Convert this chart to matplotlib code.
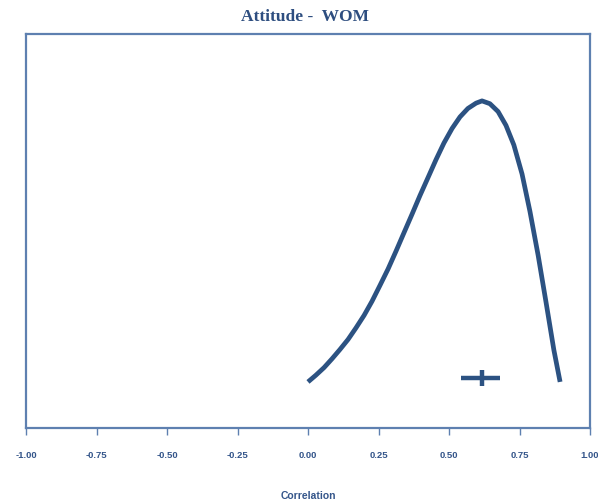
import matplotlib
matplotlib.use("Agg")
import matplotlib.pyplot as plt

# Curve, relative density
corr = [0.000, 0.028, 0.057, 0.085, 0.113, 0.142, 0.170, 0.199, 0.227, 0.255,
        0.284, 0.312, 0.340, 0.369, 0.397, 0.426, 0.454, 0.482, 0.511, 0.539,
        0.567, 0.596, 0.617, 0.645, 0.674, 0.702, 0.730, 0.759, 0.787, 0.816,
        0.844, 0.872, 0.894]
density = [0.000, 0.024, 0.051, 0.082, 0.115, 0.151, 0.192, 0.237, 0.287, 0.343,
           0.402, 0.465, 0.530, 0.597, 0.663, 0.728, 0.791, 0.850, 0.902, 0.943,
           0.973, 0.992, 1.000, 0.990, 0.962, 0.913, 0.843, 0.740, 0.607, 0.451,
           0.284, 0.113, 0.000]

# Point estimate with interval
est_x = 0.617
est_y = 0.014
est_lo = 0.543
est_hi = 0.681
est_yerr = 0.028

xticks = [-1.00, -0.75, -0.50, -0.25, 0.00, 0.25, 0.50, 0.75, 1.00]
xticklabels = ["-1.00", "-0.75", "-0.50", "-0.25", "0.00", "0.25", "0.50", "0.75", "1.00"]

navy = "#2C5282"
text_c = "#34558A"
frame_c = "#5E80B0"

fig = plt.figure(figsize=(5.98, 5.02), dpi=100)
ax = fig.add_axes([26/598, 1-429/502, (590-26)/598, (429-35)/502])

ax.plot(corr, density, color=navy, lw=3.4, solid_capstyle="butt", solid_joinstyle="round")
ax.errorbar([est_x], [est_y], xerr=[[est_x - est_lo], [est_hi - est_x]],
            yerr=[[est_yerr], [est_yerr]], fmt="none", ecolor=navy, elinewidth=3.2, capsize=0)

ax.set_xlim(-1, 1)
ax.set_ylim(-0.164, 1.238)
ax.set_yticks([])
ax.set_xticks(xticks)
ax.set_xticklabels(xticklabels, fontfamily="Liberation Sans", fontweight="bold",
                   fontsize=6.8, color=text_c)
ax.tick_params(axis="x", direction="out", length=5, width=1, color=frame_c, pad=11)
for s in ax.spines.values():
    s.set_color(frame_c)
    s.set_linewidth(1.6)

ax.set_xlabel("Correlation", fontfamily="Liberation Sans", fontweight="bold",
              fontsize=7.5, color=text_c, labelpad=22)
fig.text(305/598, 1-17/502, "Attitude -  WOM", ha="center", va="center",
         fontfamily="Liberation Serif", fontweight="bold", fontsize=12.5, color="#2E4E80")

fig.savefig("out.png", dpi=100)
